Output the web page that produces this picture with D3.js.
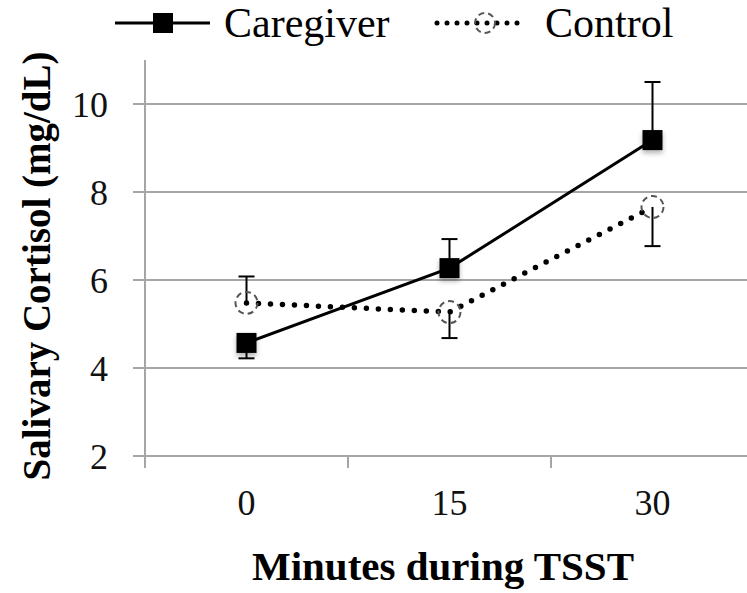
<!DOCTYPE html>
<html lang="en">
<head>
    <meta charset="UTF-8">
    <title>Salivary Cortisol during TSST</title>
    <script src="https://d3js.org/d3.v7.min.js"></script>
    <style>
        body {
          margin: 0;
          background: #ffffff;
          font-family: "Liberation Serif", serif;
        }
        .grid line, .axis-line {
          stroke: #a6a6a6;
          stroke-width: 2px;
        }
        .tick-label {
          font-size: 36px;
          fill: #111;
        }
        .title {
          font-size: 41px;
          font-weight: bold;
          fill: #000;
        }
        .legend-text {
          font-size: 42px;
          fill: #000;
        }
    </style>
</head>
<body>
<div id="chart"></div>

<script>
    // data
    const minutes = ["0", "15", "30"];
    const caregiverMean = [4.57, 6.27, 9.18];
    const caregiverBarEnd = [4.22, 6.93, 10.5];
    const controlMean = [5.48, 5.27, 7.66];
    const controlBarEnd = [6.08, 4.68, 6.77];
    const yTicks = [2, 4, 6, 8, 10];

    const width = 747, height = 593;
    const plot = {left: 145, right: 754, top: 60, bottom: 456};

    const svg = d3.select("#chart").append("svg")
      .attr("width", width)
      .attr("height", height);

    const defs = svg.append("defs");
    defs.append("filter")
      .attr("id", "shadow")
      .attr("x", "-50%").attr("y", "-50%")
      .attr("width", "200%").attr("height", "200%")
      .append("feDropShadow")
      .attr("dx", 0).attr("dy", 3)
      .attr("stdDeviation", 2.5)
      .attr("flood-color", "#000")
      .attr("flood-opacity", 0.3);

    const x = d3.scaleBand()
      .domain(minutes)
      .range([plot.left, plot.right]);

    const y = d3.scaleLinear()
      .domain([2, 11])
      .range([plot.bottom, plot.top]);

    // horizontal gridlines with left ticks
    svg.append("g")
      .attr("class", "grid")
      .selectAll("line")
      .data(yTicks)
      .join("line")
      .attr("x1", plot.left - 12)
      .attr("x2", width)
      .attr("y1", d => y(d))
      .attr("y2", d => y(d));

    // vertical axis line
    svg.append("line")
      .attr("class", "axis-line")
      .attr("x1", plot.left).attr("x2", plot.left)
      .attr("y1", plot.top).attr("y2", plot.bottom + 12);

    // category boundary ticks on x axis
    const boundaries = minutes.map(m => x(m)).concat([x(minutes[minutes.length - 1]) + x.bandwidth()]);
    svg.append("g")
      .selectAll("line")
      .data(boundaries.slice(1))
      .join("line")
      .attr("class", "axis-line")
      .attr("x1", d => d).attr("x2", d => d)
      .attr("y1", plot.bottom).attr("y2", plot.bottom + 12);

    // y tick labels
    svg.append("g")
      .selectAll("text")
      .data(yTicks)
      .join("text")
      .attr("class", "tick-label")
      .attr("x", 108)
      .attr("y", d => y(d))
      .attr("dy", "0.35em")
      .attr("text-anchor", "end")
      .text(d => d);

    // x tick labels
    svg.append("g")
      .selectAll("text")
      .data(minutes)
      .join("text")
      .attr("class", "tick-label")
      .attr("x", d => x(d) + x.bandwidth() / 2)
      .attr("y", 515)
      .attr("text-anchor", "middle")
      .text(d => d);

    // axis titles
    svg.append("text")
      .attr("class", "title")
      .attr("x", 443)
      .attr("y", 580)
      .attr("text-anchor", "middle")
      .text("Minutes during TSST");

    svg.append("text")
      .attr("class", "title")
      .attr("transform", "translate(50,266) rotate(-90)")
      .attr("text-anchor", "middle")
      .style("font-size", "39px")
      .text("Salivary Cortisol (mg/dL)");

    const cx = i => x(minutes[i]) + x.bandwidth() / 2;
    const line = d3.line()
      .x((d, i) => cx(i))
      .y(d => y(d));

    // error bars
    function errorBars(means, ends) {
      const g = svg.append("g").attr("stroke", "#000").attr("stroke-width", 2);
      g.selectAll("line.stem")
        .data(means)
        .join("line")
        .attr("class", "stem")
        .attr("x1", (d, i) => cx(i)).attr("x2", (d, i) => cx(i))
        .attr("y1", d => y(d))
        .attr("y2", (d, i) => y(ends[i]));
      g.selectAll("line.cap")
        .data(ends)
        .join("line")
        .attr("class", "cap")
        .attr("x1", (d, i) => cx(i) - 8).attr("x2", (d, i) => cx(i) + 8)
        .attr("y1", d => y(d)).attr("y2", d => y(d));
    }

    // control series (dotted, dashed open circles)
    errorBars(controlMean, controlBarEnd);
    svg.append("path")
      .datum(controlMean)
      .attr("fill", "none")
      .attr("stroke", "#000")
      .attr("stroke-width", 5.5)
      .attr("stroke-linecap", "round")
      .attr("stroke-dasharray", "0,12")
      .attr("d", line);
    svg.append("g")
      .selectAll("circle")
      .data(controlMean)
      .join("circle")
      .attr("cx", (d, i) => cx(i))
      .attr("cy", d => y(d))
      .attr("r", 11)
      .attr("fill", "none")
      .attr("stroke", "#555")
      .attr("stroke-width", 2)
      .attr("stroke-dasharray", "6,4");

    // caregiver series (solid, filled squares)
    errorBars(caregiverMean, caregiverBarEnd);
    svg.append("path")
      .datum(caregiverMean)
      .attr("fill", "none")
      .attr("stroke", "#000")
      .attr("stroke-width", 3)
      .attr("d", line);
    svg.append("g")
      .attr("filter", "url(#shadow)")
      .selectAll("rect")
      .data(caregiverMean)
      .join("rect")
      .attr("x", (d, i) => cx(i) - 10)
      .attr("y", d => y(d) - 10)
      .attr("width", 20)
      .attr("height", 20)
      .attr("fill", "#000");

    // legend
    const legend = svg.append("g");
    legend.append("line")
      .attr("x1", 115).attr("x2", 210)
      .attr("y1", 23).attr("y2", 23)
      .attr("stroke", "#000").attr("stroke-width", 3);
    legend.append("rect")
      .attr("x", 153).attr("y", 13)
      .attr("width", 20).attr("height", 20)
      .attr("fill", "#000");
    legend.append("text")
      .attr("class", "legend-text")
      .attr("x", 224).attr("y", 37)
      .text("Caregiver");

    legend.append("line")
      .attr("x1", 437).attr("x2", 527)
      .attr("y1", 23).attr("y2", 23)
      .attr("stroke", "#000").attr("stroke-width", 5)
      .attr("stroke-linecap", "round")
      .attr("stroke-dasharray", "0,10");
    legend.append("circle")
      .attr("cx", 485).attr("cy", 23).attr("r", 10)
      .attr("fill", "none")
      .attr("stroke", "#555").attr("stroke-width", 2)
      .attr("stroke-dasharray", "6,4");
    legend.append("text")
      .attr("class", "legend-text")
      .attr("x", 545).attr("y", 37)
      .text("Control");
</script>
</body>
</html>
